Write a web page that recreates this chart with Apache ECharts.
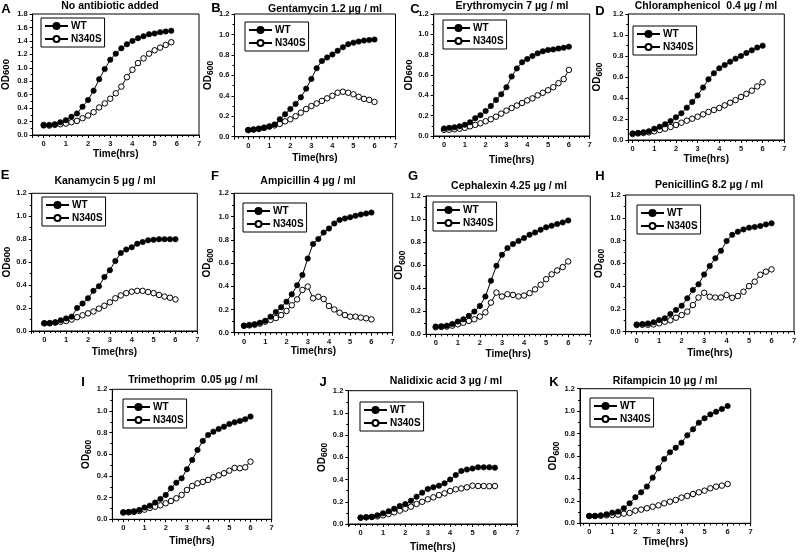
<!DOCTYPE html>
<html><head><meta charset="utf-8">
<script src="https://cdn.jsdelivr.net/npm/echarts@6/dist/echarts.min.js"></script>
<style>html,body{margin:0;padding:0;background:#fff}#c{width:800px;height:557px}</style>
</head><body><div id="c"></div>
<script>
// ---------- DATA ----------
const time = [0,0.25,0.5,0.75,1,1.25,1.5,1.75,2,2.25,2.5,2.75,3,3.25,3.5,3.75,4,4.25,4.5,4.75,5,5.25,5.5,5.75,6];
const timeA = [0,0.25,0.5,0.75,1,1.25,1.5,1.75,2,2.25,2.5,2.75,3,3.25,3.5,3.75,4,4.25,4.5,4.75,5,5.25,5.5,5.75];
const xTicks = [0,1,2,3,4,5,6,7];
const seriesNames = ['WT','N340S'];
const letters = ['A','B','C','D','E','F','G','H','I','J','K'];
const titles = ['No antibiotic added','Gentamycin 1.2 \u00b5g / ml','Erythromycin 7 \u00b5g / ml','Chloramphenicol  0.4 \u00b5g / ml',
  'Kanamycin 5 \u00b5g / ml','Ampicillin 4 \u00b5g / ml','Cephalexin 4.25 \u00b5g / ml','PenicillinG 8.2 \u00b5g / ml',
  'Trimethoprim  0.05 \u00b5g / ml','Nalidixic acid 3 \u00b5g / ml','Rifampicin 10 \u00b5g / ml'];
const yMax = [1.8,1.2,1.2,1.2,1.2,1.2,1.2,1.2,1.2,1.2,1.2];

const wtA  = [0.14,0.15,0.16,0.19,0.22,0.27,0.32,0.42,0.52,0.66,0.83,0.98,1.12,1.21,1.29,1.35,1.40,1.44,1.47,1.50,1.51,1.53,1.54,1.55];
const mutA = [0.15,0.14,0.15,0.16,0.17,0.19,0.21,0.25,0.29,0.34,0.41,0.47,0.54,0.62,0.72,0.86,0.97,1.07,1.14,1.21,1.26,1.30,1.34,1.38];
const wtB  = [0.065,0.07,0.08,0.09,0.10,0.12,0.17,0.22,0.27,0.32,0.385,0.47,0.565,0.67,0.74,0.775,0.805,0.84,0.875,0.905,0.92,0.93,0.94,0.945,0.95];
const mutB = [0.065,0.07,0.075,0.085,0.10,0.11,0.125,0.15,0.17,0.20,0.235,0.27,0.30,0.325,0.35,0.375,0.40,0.43,0.44,0.43,0.415,0.39,0.37,0.36,0.34];
const wtC  = [0.075,0.08,0.085,0.095,0.11,0.135,0.175,0.205,0.245,0.295,0.355,0.41,0.48,0.585,0.665,0.725,0.757,0.787,0.813,0.833,0.846,0.852,0.86,0.868,0.879];
const mutC = [0.06,0.062,0.066,0.072,0.08,0.095,0.11,0.125,0.145,0.165,0.19,0.22,0.25,0.275,0.30,0.325,0.35,0.37,0.40,0.425,0.45,0.48,0.52,0.56,0.65];
const wtD  = [0.063,0.067,0.073,0.083,0.108,0.127,0.15,0.18,0.216,0.254,0.308,0.362,0.425,0.50,0.578,0.635,0.683,0.714,0.746,0.775,0.80,0.829,0.854,0.88,0.898];
const mutD = [0.057,0.063,0.067,0.073,0.083,0.095,0.108,0.124,0.143,0.165,0.184,0.203,0.222,0.244,0.267,0.286,0.305,0.33,0.355,0.38,0.41,0.44,0.47,0.51,0.55];
const wtE  = [0.067,0.07,0.076,0.093,0.11,0.125,0.20,0.24,0.285,0.35,0.39,0.47,0.53,0.61,0.68,0.71,0.73,0.76,0.775,0.79,0.795,0.80,0.80,0.80,0.80];
const mutE = [0.067,0.067,0.073,0.08,0.087,0.10,0.12,0.137,0.154,0.17,0.195,0.22,0.25,0.285,0.31,0.33,0.343,0.35,0.35,0.34,0.33,0.314,0.30,0.29,0.276];
const wtF  = [0.06,0.066,0.072,0.086,0.103,0.138,0.178,0.22,0.267,0.33,0.408,0.497,0.638,0.764,0.807,0.862,0.897,0.94,0.97,0.983,0.994,1.006,1.017,1.026,1.034];
const mutF = [0.06,0.063,0.069,0.078,0.095,0.11,0.126,0.152,0.187,0.236,0.287,0.368,0.397,0.296,0.31,0.29,0.23,0.20,0.172,0.152,0.138,0.138,0.13,0.124,0.115];
const wtG  = [0.067,0.07,0.075,0.09,0.11,0.13,0.16,0.197,0.246,0.328,0.464,0.594,0.69,0.748,0.783,0.81,0.835,0.864,0.884,0.907,0.928,0.942,0.957,0.971,0.988];
const mutG = [0.061,0.064,0.067,0.075,0.087,0.10,0.116,0.13,0.154,0.19,0.275,0.362,0.328,0.348,0.342,0.328,0.336,0.357,0.39,0.43,0.478,0.52,0.554,0.583,0.632];
const wtH  = [0.064,0.067,0.073,0.082,0.102,0.117,0.155,0.19,0.228,0.293,0.366,0.416,0.503,0.577,0.644,0.71,0.796,0.85,0.878,0.898,0.913,0.919,0.928,0.942,0.951];
const mutH = [0.059,0.061,0.061,0.064,0.073,0.088,0.10,0.123,0.146,0.176,0.234,0.30,0.342,0.307,0.30,0.30,0.322,0.298,0.313,0.351,0.40,0.439,0.50,0.527,0.547];
const wtI  = [0.065,0.068,0.074,0.086,0.108,0.126,0.154,0.188,0.225,0.286,0.338,0.378,0.462,0.548,0.64,0.723,0.778,0.809,0.834,0.855,0.88,0.895,0.908,0.923,0.948];
const mutI = [0.062,0.065,0.068,0.077,0.089,0.105,0.117,0.129,0.148,0.169,0.194,0.225,0.271,0.308,0.332,0.345,0.363,0.388,0.406,0.425,0.449,0.474,0.471,0.48,0.532];
const wtJ  = [0.057,0.06,0.066,0.078,0.096,0.114,0.138,0.162,0.18,0.21,0.246,0.282,0.315,0.33,0.345,0.366,0.40,0.44,0.477,0.49,0.50,0.51,0.51,0.51,0.507];
const mutJ = [0.057,0.06,0.063,0.069,0.078,0.09,0.105,0.12,0.138,0.156,0.18,0.20,0.222,0.24,0.26,0.276,0.297,0.312,0.32,0.33,0.345,0.342,0.342,0.34,0.342];
const wtK  = [0.065,0.065,0.07,0.08,0.095,0.104,0.134,0.178,0.232,0.276,0.327,0.407,0.49,0.573,0.633,0.674,0.719,0.784,0.838,0.897,0.936,0.971,0.995,1.019,1.045];
const mutK = [0.065,0.065,0.068,0.071,0.074,0.077,0.086,0.092,0.113,0.122,0.134,0.148,0.16,0.178,0.193,0.208,0.229,0.244,0.261,0.276,0.291,0.312,0.327,0.336,0.35];

const wtAll  = [wtA,wtB,wtC,wtD,wtE,wtF,wtG,wtH,wtI,wtJ,wtK];
const mutAll = [mutA,mutB,mutC,mutD,mutE,mutF,mutG,mutH,mutI,mutJ,mutK];
const timeAll = [timeA,time,time,time,time,time,time,time,time,time,time];

// ---------- LAYOUT (pixels) ----------
const layout = [
 {L:32.6,R:199,T:14,B:135,xmin:-0.5, tx:110,ty:6, lx:6,ly:9,  gl:41,gt:18,  xg:14,yg:20,sub:false},
 {L:234.5,R:395.5,T:14,B:136.7,xmin:-0.656, tx:325,ty:9, lx:216,ly:8, gl:245,gt:22, xg:17,yg:11,sub:true},
 {L:433.7,R:589.7,T:14,B:136,xmin:-0.495, tx:512,ty:6, lx:415,ly:9, gl:443,gt:20, xg:19,yg:11,sub:false},
 {L:628.3,R:784.3,T:14,B:140,xmin:-0.2, tx:706,ty:6, lx:600,ly:11, gl:633,gt:26, xg:11,yg:24,sub:true},
 {L:31.7,R:197.3,T:193.3,B:331,xmin:-0.576, tx:105,ty:181, lx:5,ly:175, gl:42,gt:197, xg:16,yg:16,sub:false},
 {L:234,R:392.7,T:193.3,B:332.7,xmin:-0.47, tx:308,ty:181, lx:215,ly:176, gl:243,gt:203, xg:13,yg:8,sub:true},
 {L:426,R:590.3,T:196,B:334.3,xmin:-0.44, tx:509,ty:186, lx:413,ly:176, gl:433,gt:202, xg:15,yg:10,sub:true},
 {L:625.7,R:794,T:195,B:331.7,xmin:-0.49, tx:709,ty:185, lx:600,ly:176, gl:637,gt:205, xg:17,yg:12,sub:true},
 {L:112.3,R:271.7,T:389.3,B:519.3,xmin:-0.52, tx:193,ty:380, lx:83,ly:382, gl:123,gt:399, xg:17,yg:18,sub:true},
 {L:348.3,R:517.3,T:390.7,B:524,xmin:-0.55, tx:446,ty:381, lx:323,ly:382, gl:360,gt:402, xg:18,yg:15,sub:true},
 {L:580,R:750.7,T:388.7,B:523.3,xmin:-0.40, tx:665,ty:381, lx:554,ly:382, gl:590,gt:398, xg:14,yg:19,sub:true}
];

const FONT = '"Liberation Sans", Arial, sans-serif';
const grid=[], xAxis=[], yAxis=[], series=[], legend=[], graphic=[];

layout.forEach((p,i)=>{
  grid.push({left:p.L, top:p.T, width:p.R-p.L, height:p.B-p.T, show:true, borderColor:'#000', borderWidth:1, backgroundColor:'transparent', containLabel:false});
  xAxis.push({type:'value', gridIndex:i, min:p.xmin, max:xTicks[xTicks.length-1], minInterval:1, maxInterval:1,
    name:'Time(hrs)', nameLocation:'middle', nameGap:p.xg,
    nameTextStyle:{fontFamily:FONT, fontWeight:'bold', fontSize:10, color:'#000'},
    axisLine:{show:true, onZero:false, lineStyle:{color:'#000', width:1}},
    axisTick:{show:true, length:3, lineStyle:{color:'#000'}},
    minorTick:{show:true, splitNumber:4, length:2, lineStyle:{color:'#000'}},
    splitLine:{show:false},
    axisLabel:{fontFamily:FONT, fontWeight:'bold', fontSize:7.5, color:'#111', margin:5,
      formatter:v=> xTicks.indexOf(v)>=0 ? String(v) : ''}
  });
  const sub = p.sub;
  yAxis.push({type:'value', gridIndex:i, min:0, max:yMax[i], interval:0.2,
    name:'{a|OD}{b|600}', nameLocation:'middle', nameGap:p.yg,
    nameTextStyle:{color:'#000', rich:{
      a:{fontFamily:FONT, fontWeight:'bold', fontSize:10, lineHeight:12, verticalAlign: sub?'top':'middle'},
      b:{fontFamily:FONT, fontWeight:'bold', fontSize: sub?8.5:9.5, lineHeight: sub?8:12, verticalAlign: sub?'bottom':'middle', padding: sub?[6,0,0,0]:0}
    }},
    axisLine:{show:true, onZero:false, lineStyle:{color:'#000', width:1}},
    axisTick:{show:true, length:3, lineStyle:{color:'#000'}},
    minorTick:{show:true, splitNumber:2, length:2, lineStyle:{color:'#000'}},
    splitLine:{show:false},
    axisLabel:{fontFamily:FONT, fontWeight:'bold', fontSize:7.5, color:'#111', margin:5, formatter:v=>v.toFixed(1)}
  });
  const t = timeAll[i];
  series.push({type:'line', name:seriesNames[0], xAxisIndex:i, yAxisIndex:i,
    data:t.map((x,j)=>[x, wtAll[i][j]]), symbol:'circle', symbolSize:5.5, showSymbol:true,
    lineStyle:{color:'#000', width:1}, itemStyle:{color:'#000', borderColor:'#000', borderWidth:0.5}, z:3, animation:false});
  series.push({type:'line', name:seriesNames[1], xAxisIndex:i, yAxisIndex:i,
    data:t.map((x,j)=>[x, mutAll[i][j]]), symbol:'circle', symbolSize:5.5, showSymbol:true,
    lineStyle:{color:'#000', width:1}, itemStyle:{color:'#fff', borderColor:'#000', borderWidth:1}, z:2, animation:false});
  legend.push({orient:'vertical', left:p.gl, top:p.gt, data:seriesNames, selectedMode:false,
    borderColor:'#000', borderWidth:1, padding:[3,3,3,3], itemGap:3, itemWidth:23, itemHeight:7.5,
    textStyle:{fontFamily:FONT, fontWeight:'bold', fontSize:10, color:'#000', padding:[0,0,0,-2]}});
  graphic.push({type:'text', x:p.tx, y:p.ty, style:{text:titles[i], fill:'#000', font:'bold 10.5px '+FONT, textAlign:'center', textVerticalAlign:'middle'}});
  graphic.push({type:'text', x:p.lx, y:p.ly, style:{text:letters[i], fill:'#000', font:'bold 13px '+FONT, textAlign:'center', textVerticalAlign:'middle'}});
});

const chart = echarts.init(document.getElementById('c'), null, {renderer:'canvas'});
chart.setOption({animation:false, backgroundColor:'#fff', grid, xAxis, yAxis, series, legend, graphic});
</script>
</body></html>
